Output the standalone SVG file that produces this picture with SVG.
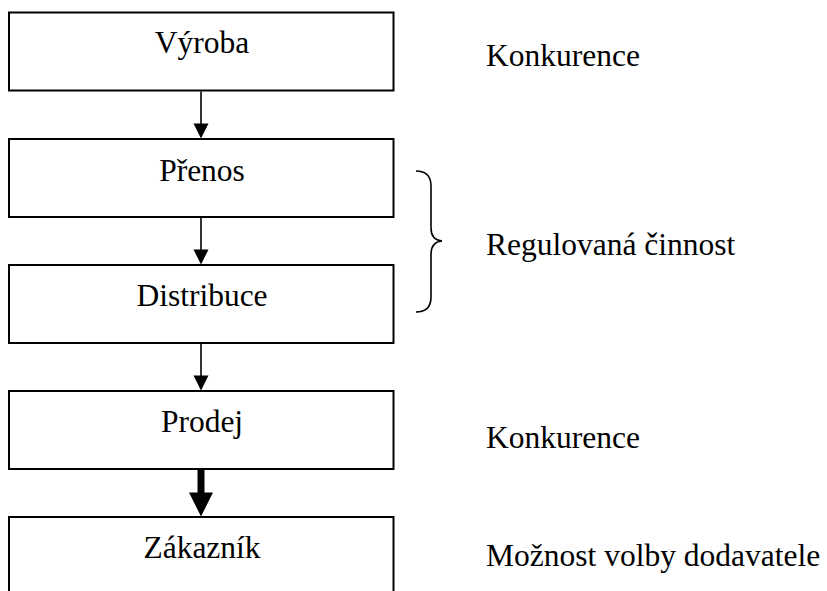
<svg xmlns="http://www.w3.org/2000/svg" width="827" height="591" viewBox="0 0 827 591">
  <style>
    .box { fill: #ffffff; stroke: #000000; stroke-width: 2; }
    .label { font-family: "Liberation Serif", "Times New Roman", serif; font-size: 31.5px; fill: #000000; }
    .center { text-anchor: middle; }
    .link { stroke: #000000; stroke-width: 1.6; fill: none; }
    .link-bold { stroke: #000000; stroke-width: 7; fill: none; }
    .head { fill: #000000; stroke: none; }
    .brace { stroke: #000000; stroke-width: 1.6; fill: none; }
  </style>
  <defs>
    <!-- arrowheads drawn with the tip at the origin, pointing down -->
    <path id="head" d="M-7.5,-15 L7.5,-15 L0,0 Z"/>
    <path id="head-bold" d="M-12,-24 L12,-24 L0,0 Z"/>
  </defs>

  <rect width="827" height="591" fill="#ffffff"/>

  <g id="vyroba">
    <rect class="box" x="9" y="12.5" width="384.5" height="78"/>
    <text class="label center" x="202" y="53">Výroba</text>
  </g>
  <g id="prenos">
    <rect class="box" x="9" y="139" width="384.5" height="78"/>
    <text class="label center" x="202" y="181">Přenos</text>
  </g>
  <g id="distribuce">
    <rect class="box" x="9" y="265" width="384.5" height="78"/>
    <text class="label center" x="202" y="306">Distribuce</text>
  </g>
  <g id="prodej">
    <rect class="box" x="9" y="391" width="384.5" height="78"/>
    <text class="label center" x="202" y="432">Prodej</text>
  </g>
  <g id="zakaznik">
    <rect class="box" x="9" y="517" width="384.5" height="90"/>
    <text class="label center" x="202" y="558">Zákazník</text>
  </g>

  <g id="connectors">
    <line class="link" x1="201" y1="91.5" x2="201" y2="126"/>
    <use href="#head" class="head" x="201" y="138.5"/>
    <line class="link" x1="201" y1="218" x2="201" y2="252"/>
    <use href="#head" class="head" x="201" y="264.5"/>
    <line class="link" x1="201" y1="344" x2="201" y2="378"/>
    <use href="#head" class="head" x="201" y="390.5"/>
    <line class="link-bold" x1="201" y1="470" x2="201" y2="494"/>
    <use href="#head-bold" class="head" x="201" y="516.5"/>
  </g>

  <g id="regulated-brace">
    <path class="brace" d="M416,171 Q431,171 431,186 L431,228 Q431,240 442,241 Q431,242 431,254 L431,297 Q431,312 416,312"/>
  </g>

  <g id="annotations">
    <text class="label" x="486" y="66">Konkurence</text>
    <text class="label" x="486" y="255">Regulovaná činnost</text>
    <text class="label" x="486" y="448">Konkurence</text>
    <text class="label" x="486" y="566">Možnost volby dodavatele</text>
  </g>
</svg>
